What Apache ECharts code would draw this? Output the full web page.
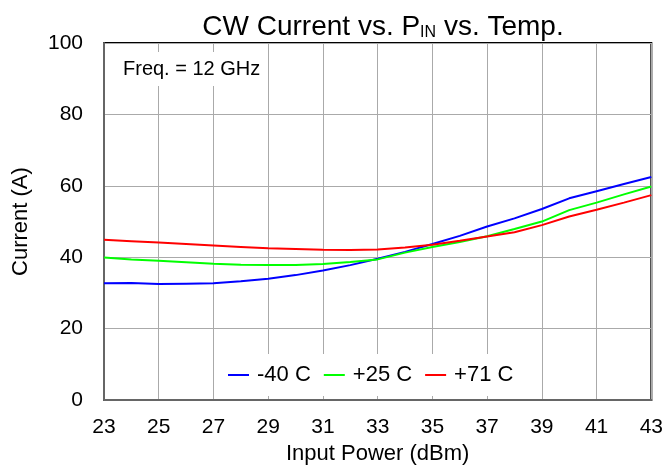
<!DOCTYPE html>
<html>
<head>
<meta charset="utf-8">
<title>CW Current vs. PIN vs. Temp.</title>
<script src="https://cdn.jsdelivr.net/npm/echarts@6/dist/echarts.min.js"></script>
<style>
  html, body { margin: 0; padding: 0; background: #fff; }
  #main { width: 666px; height: 470px; }
</style>
</head>
<body>
<div id="main"></div>
<script>
// input power (dBm)
const inputPower = ['23', '24', '25', '26', '27', '28', '29', '30', '31', '32', '33',
  '34', '35', '36', '37', '38', '39', '40', '41', '42', '43']
// current (A) per temperature
const curMinus40 = [32.7, 32.8, 32.5, 32.6, 32.7, 33.3, 34.0, 35.0, 36.3, 37.8, 39.6,
  41.5, 43.7, 46.0, 48.6, 50.9, 53.5, 56.5, 58.5, 60.5, 62.5]
const curPlus25 = [39.9, 39.4, 39.0, 38.6, 38.2, 37.9, 37.8, 37.8, 38.1, 38.7, 39.4,
  41.3, 42.9, 44.3, 45.9, 47.9, 50.0, 53.2, 55.3, 57.6, 59.8]
const curPlus71 = [44.9, 44.5, 44.1, 43.7, 43.3, 42.9, 42.5, 42.3, 42.1, 42.0, 42.2,
  42.7, 43.5, 44.6, 45.8, 47.0, 49.0, 51.4, 53.3, 55.3, 57.4]
const seriesNames = ['-40 C', '+25 C', '+71 C']
const seriesColors = ['#0000ff', '#00ff00', '#ff0000']

const font = 'Liberation Sans, Arial, sans-serif'
const chart = echarts.init(document.getElementById('main'))

const makeLine = (name, data, color) => ({
  name,
  type: 'line',
  data,
  symbol: 'none',
  color,
  lineStyle: { width: 2, color },
  z: 3
})

const option = {
  animation: false,
  textStyle: { fontFamily: font },
  title: {
    text: '{a|CW Current vs. P}{s|IN}{a| vs. Temp.}',
    left: 378,
    textAlign: 'center',
    top: 4,
    textStyle: {
      rich: {
        a: { fontSize: 28, fontWeight: 'normal', color: '#000', fontFamily: font, verticalAlign: 'bottom', lineHeight: 32 },
        s: { fontSize: 16, fontWeight: 'normal', color: '#000', fontFamily: font, verticalAlign: 'bottom', lineHeight: 18 }
      }
    }
  },
  legend: {
    data: seriesNames.map(n => ({ name: n, icon: 'rect' })),
    left: 216,
    top: 354,
    itemWidth: 21,
    itemHeight: 2,
    itemGap: 13,
    backgroundColor: '#fff',
    padding: [10, 12, 10, 12],
    textStyle: { fontSize: 22, color: '#000', fontFamily: font, padding: [0, 0, 0, 3] }
  },
  grid: {
    left: 104,
    right: 14,
    top: 43,
    bottom: 69,
    show: true,
    borderColor: '#000',
    borderWidth: 2
  },
  xAxis: {
    type: 'category',
    data: inputPower,
    boundaryGap: false,
    name: 'Input Power (dBm)',
    nameLocation: 'middle',
    nameGap: 41,
    nameTextStyle: { fontSize: 22, color: '#000' },
    axisLine: { lineStyle: { color: '#666', width: 2 } },
    axisTick: { show: false },
    axisLabel: { interval: 1, fontSize: 21, color: '#000', margin: 17 },
    splitLine: { show: true, interval: 1, lineStyle: { color: '#aaa', width: 1 } }
  },
  yAxis: {
    type: 'value',
    min: 0,
    max: 100,
    interval: 20,
    name: 'Current (A)',
    nameLocation: 'middle',
    nameGap: 72,
    nameTextStyle: { fontSize: 22, color: '#000' },
    axisLine: { show: true, lineStyle: { color: '#666', width: 2 } },
    axisTick: { show: false },
    axisLabel: { fontSize: 21, color: '#000', margin: 21 },
    splitLine: { show: true, lineStyle: { color: '#aaa', width: 1 } }
  },
  graphic: [
    {
      type: 'rect',
      shape: { x: 106, y: 52, width: 158, height: 34 },
      style: { fill: '#fff' },
      z: 10
    },
    {
      type: 'text',
      x: 123,
      y: 69,
      style: {
        text: 'Freq. = 12 GHz',
        fontSize: 20,
        fontFamily: font,
        fill: '#000',
        verticalAlign: 'middle'
      },
      z: 11
    }
  ],
  series: [
    makeLine(seriesNames[0], curMinus40, seriesColors[0]),
    makeLine(seriesNames[1], curPlus25, seriesColors[1]),
    makeLine(seriesNames[2], curPlus71, seriesColors[2])
  ]
}

chart.setOption(option)
</script>
</body>
</html>
